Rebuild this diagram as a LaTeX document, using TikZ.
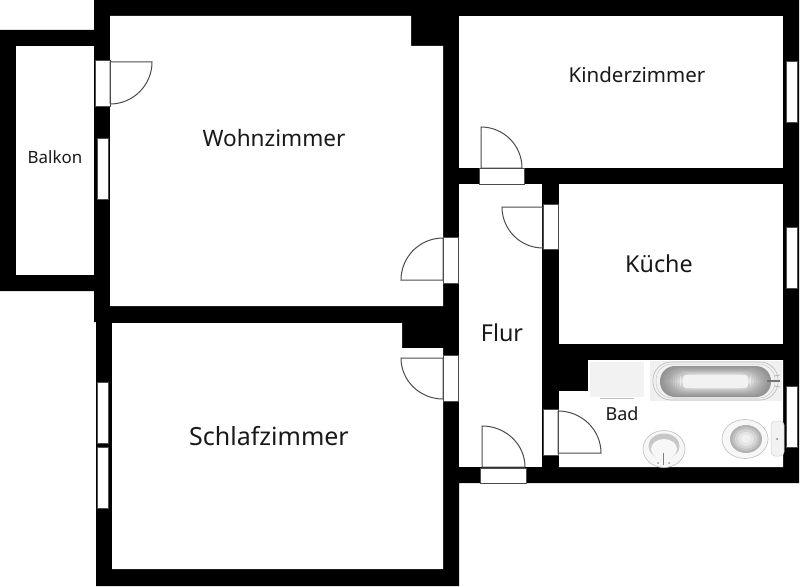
\documentclass[tikz,border=0pt]{standalone}
\usepackage{fontspec}
\setmainfont{Noto Sans}
\definecolor{leaf}{gray}{0.3}
\tikzset{
  x=1pt,y=-1pt,
  roomfill/.style={fill=white,draw=none},
  opening/.style={fill=white,draw=black!70,line width=0.5pt},
  leafline/.style={draw=leaf,line width=1pt,line join=miter},
  lab/.style={text=black!90,inner sep=0pt,anchor=center},
}
\begin{document}
\begin{tikzpicture}
\useasboundingbox (0,0) rectangle (800,586);
\fill[white] (0,0) rectangle (800,586);
% wall mass
\fill[black] (94,0) -- (799,0) -- (799,483) -- (459,483) -- (459,586) -- (96,586) -- (96,322) -- (94,322) -- (94,291) -- (0,291) -- (0,30) -- (94,30) -- cycle;
% rooms
\fill[roomfill] (16,46) rectangle (94,275);
\fill[roomfill] (110,16) -- (411,16) -- (411,46) -- (443,46) -- (443,306) -- (110,306) -- cycle;
\fill[roomfill] (459,16) rectangle (783,168);
\fill[roomfill] (459,184) rectangle (542,467);
\fill[roomfill] (559,184) rectangle (783,344);
\fill[roomfill] (559,391) -- (588,391) -- (588,360) -- (783,360) -- (783,467) -- (559,467) -- cycle;
\fill[roomfill] (112,323) -- (402,323) -- (402,348) -- (443,348) -- (443,569) -- (112,569) -- cycle;
% windows
\draw[opening] (97,138) rectangle (108,199);
\draw[opening] (97,382) rectangle (108,443);
\draw[opening] (97,447) rectangle (108,508);
\draw[opening] (786,61) rectangle (797,122);
\draw[opening] (786,227) rectangle (797,288);
\draw[opening] (786,386) rectangle (797,447);
% door openings
\draw[opening] (95,60) rectangle (110,106);
\draw[opening] (443,237) rectangle (458,283);
\draw[opening] (479,168) rectangle (524,184);
\draw[opening] (543,204) rectangle (558,249);
\draw[opening] (443,355) rectangle (458,401);
\draw[opening] (480,468) rectangle (526,483);
\draw[opening] (543,409) rectangle (558,455);
% door leaves
\draw[leafline] (110,104) -- (110,62) -- (152,62) arc[start angle=0,end angle=90,x radius=42,y radius=42];
\draw[leafline] (443,238) -- (443,280) -- (401,280) arc[start angle=180,end angle=270,x radius=42,y radius=42];
\draw[leafline] (522,168) -- (481,168) -- (481,127) arc[start angle=270,end angle=360,x radius=41,y radius=41];
\draw[leafline] (543,248) -- (543,207) -- (502,207) arc[start angle=180,end angle=90,x radius=41,y radius=41];
\draw[leafline] (443,399) -- (443,358) -- (401,358) arc[start angle=180,end angle=90,x radius=42,y radius=41];
\draw[leafline] (525,467) -- (482,467) -- (482,426) arc[start angle=270,end angle=360,x radius=43,y radius=41];
\draw[leafline] (558,411) -- (558,453) -- (601,453) arc[start angle=0,end angle=-90,x radius=43,y radius=42];
% bathroom fixtures
\fill[black!5] (590,362) rectangle (644,397);
\draw[black!25,line width=0.5pt] (600,398) -- (634,398);
\fill[black!6] (650,361) rectangle (782,401);
\draw[black!28,fill=black!5,line width=0.6pt,rounded corners=18pt] (653,362) rectangle (778,400);
\draw[black!22,line width=0.5pt,rounded corners=16pt] (656,364) rectangle (775,398);
\foreach \i/\g in {0/42,1/40,2/37,3/34,4/31,5/27,6/23,7/19,8/14,9/9}{
  \fill[black!\g,rounded corners=15pt] (660+2.2*\i,366+\i) rectangle (771-2.2*\i,397-\i*1.05);
}
\fill[black!5,rounded corners=3pt] (683,375) rectangle (748,388);
\draw[black!55,line width=1.2pt] (767,381) -- (780,381);
\draw[black!30,line width=0.8pt] (774,376) -- (780,375) (774,386) -- (780,387);
% basin
\draw[black!25,fill=black!3,line width=0.6pt] (664,449) ellipse [x radius=21,y radius=18.5];
\fill[black!22] (664,446) ellipse [x radius=15.5,y radius=12.5];
\fill[black!3] (664,449) ellipse [x radius=13,y radius=10];
\draw[black!50,line width=1pt] (663.5,453) -- (663.5,465);
\fill[black!40] (658,463) circle (1) (669,463) circle (1);
% toilet
\draw[black!25,fill=black!3,line width=0.6pt] (745,439) ellipse [x radius=23,y radius=19.5];
\foreach \r/\g in {1/30,0.85/24,0.7/17,0.5/10,0.3/6}{
  \fill[black!\g] (746,439) ellipse [x radius=16*\r,y radius=14*\r];
}
\fill[black!5,draw=black!18,line width=0.5pt,rounded corners=4pt] (771,421) rectangle (784,456);
\fill[black!50] (777,439) circle (1);
% labels
\node[lab,font=\fontsize{16.9}{20}\selectfont] (balkon) at (55,157) {Balkon};
\node[lab,font=\fontsize{22.6}{27}\selectfont] (wohn) at (274,138) {Wohnzimmer};
\node[lab,font=\fontsize{20.5}{24}\selectfont] (kinder) at (637,75) {Kinderzimmer};
\node[lab,font=\fontsize{23.3}{28}\selectfont] (kueche) at (659,264) {Küche};
\node[lab,font=\fontsize{23.3}{28}\selectfont] (flur) at (502,333) {Flur};
\node[lab,font=\fontsize{18}{22}\selectfont] (bad) at (622,414) {Bad};
\node[lab,font=\fontsize{25}{30}\selectfont] (schlaf) at (269,436) {Schlafzimmer};
\end{tikzpicture}
\end{document}
